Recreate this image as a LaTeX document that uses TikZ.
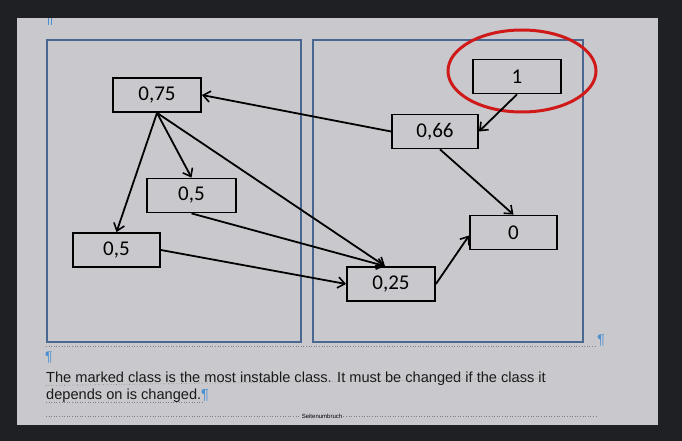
\documentclass[tikz,border=0pt]{standalone}
\usepackage{fontspec}
\setmainfont{Liberation Sans}
\newfontfamily\carl{Carlito}
\usetikzlibrary{arrows.meta}
\definecolor{darkbg}{HTML}{1F2023}
\definecolor{pagebg}{HTML}{C9C9CD}
\definecolor{frameblue}{HTML}{4A6790}
\definecolor{pilcrow}{HTML}{4A8FD0}
\definecolor{redring}{HTML}{D01A1A}
\tikzset{
  cls/.style={draw=black, line width=1.8pt, minimum width=88pt, minimum height=34pt,
    inner sep=0pt, font=\carl\fontsize{21}{22}\selectfont},
  dep/.style={line width=1.8pt, -{Straight Barb[length=7pt,width=11pt,line width=1.6pt]}},
  frame/.style={draw=frameblue, line width=1.8pt},
  pil/.style={text=pilcrow, inner sep=0pt, font=\fontsize{14}{14}\selectfont},
  body/.style={anchor=base west, inner sep=0pt, font=\fontsize{14.6}{15}\selectfont, text=black!90}
}
\begin{document}
\begin{tikzpicture}[x=1pt,y=-1pt]
\useasboundingbox (0,0) rectangle (682,441);
\fill[darkbg] (0,0) rectangle (682,441);
\fill[pagebg] (17,18) rectangle (658,425);
% frames
\draw[frame] (47,40) rectangle (301,342);
\draw[frame] (313,40) rectangle (583,342);
% nodes
\node[cls] (n075) at (157,95) {0,75};
\node[cls, minimum width=89pt] (n05a) at (191.5,195.5) {0,5};
\node[cls, minimum width=87pt] (n05b) at (116.5,250) {0,5};
\node[cls] (n025) at (391,284) {0,25};
\node[cls, minimum width=87pt] (n0) at (513.5,232.5) {0};
\node[cls, minimum width=86pt] (n066) at (435,131.5) {0,66};
\node[cls] (n1) at (517,76.5) {1};
% red ring
\draw[redring, line width=3pt] (522,71) ellipse [x radius=74pt, y radius=41pt];
% connectors
\draw[dep] (n066.west) -- (n075.east);
\draw[dep] (n1.south) -- (n066.east);
\draw[dep] (n075.south) -- (n05b.north);
\draw[dep] (n075.south) -- (n05a.north);
\coordinate (in025) at ([xshift=-6pt]n025.north);
\draw[dep] (n075.south) -- (in025);
\draw[dep] (n05a.south) -- (in025);
\draw[dep] (n05b.east) -- (n025.west);
\draw[dep] (n025.east) -- ([yshift=-3pt]n0.west);
\draw[dep] ([xshift=5pt]n066.south) -- (n0.north);
% word marks
\draw[pilcrow, line width=0.8pt] (48.5,18) -- (48.5,25) (51,18) -- (51,25);
\draw[gray, dotted, line width=0.6pt] (46,346) -- (597,346);
\node[pil, anchor=base] (p1) at (601,344) {¶};
\node[pil, anchor=base west] (p2) at (45,361) {¶};
\node[body] (t1) at (46,382)
  {The marked class is the most instable class. It must be changed if the class it};
\node[body] (t2) at (46,399)
  {depends on is changed.\textcolor{pilcrow}{¶}};
\draw[gray, dotted, line width=0.6pt] (46,385.5) -- (t1.east);
\draw[gray, dotted, line width=0.6pt] (46,402.5) -- (203,402.5);
\node[inner sep=1pt, fill=pagebg, font=\fontsize{6}{6}\selectfont] (sb) at (322,416) {Seitenumbruch};
\draw[gray, dotted, line width=0.6pt] (46,416) -- (sb.west);
\draw[gray, dotted, line width=0.6pt] (sb.east) -- (597,416);
\end{tikzpicture}
\end{document}
